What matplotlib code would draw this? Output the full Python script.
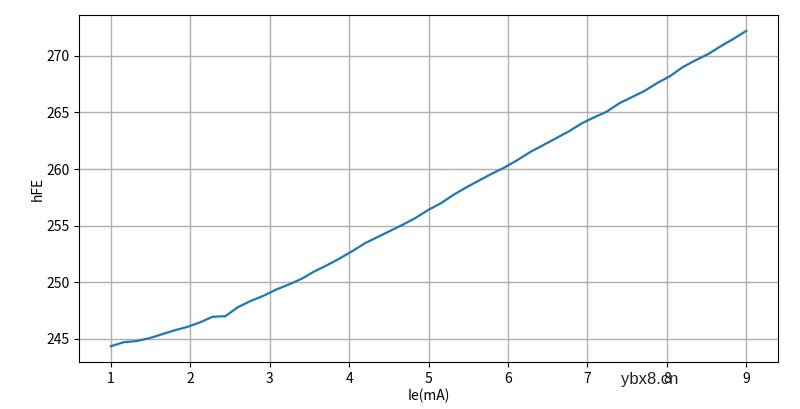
import numpy as np
import matplotlib
matplotlib.use("Agg")
import matplotlib.pyplot as plt

plt.rcParams['font.family'] = ['Noto Sans CJK SC', 'DejaVu Sans']
plt.rcParams['axes.unicode_minus'] = False

# Ie in mA, step 0.16
ie = np.round(np.arange(51) * 0.16 + 1.0, 2)
hfe = [
    244.35, 244.7, 244.8, 245.05, 245.4, 245.75, 246.05, 246.45, 246.95, 247.0,
    247.8, 248.35, 248.8, 249.35, 249.8, 250.3, 250.95, 251.5, 252.1, 252.75,
    253.45, 254.0, 254.55, 255.1, 255.7,
    256.4, 257.0, 257.75, 258.4, 259.0, 259.6, 260.15, 260.8, 261.5, 262.1,
    262.7, 263.3, 264.0, 264.55, 265.05, 265.8, 266.35, 266.9, 267.6, 268.2,
    269.0, 269.6, 270.15, 270.85, 271.5, 272.2,
]

fig = plt.figure(figsize=(8, 4.09), dpi=100)
ax = fig.add_axes([0.099, 0.115, 0.8735, 0.848])
ax.plot(ie, hfe, color='#1f77b4', linewidth=1.6)
ax.grid(True, color='#b0b0b0', linewidth=1.0)
ax.set_xlabel('Ie(mA)', fontsize=10, labelpad=2)
ax.set_ylabel('hFE', fontsize=10, labelpad=1)
ax.tick_params(labelsize=10)

# watermark, sits over the "8" tick label as in the original
fig.text(0.776, 0.071, 'ybx8.cn', fontsize=12, color='#222222',
         family='Liberation Sans', ha='left', va='center')

fig.savefig('out.png', dpi=100)
